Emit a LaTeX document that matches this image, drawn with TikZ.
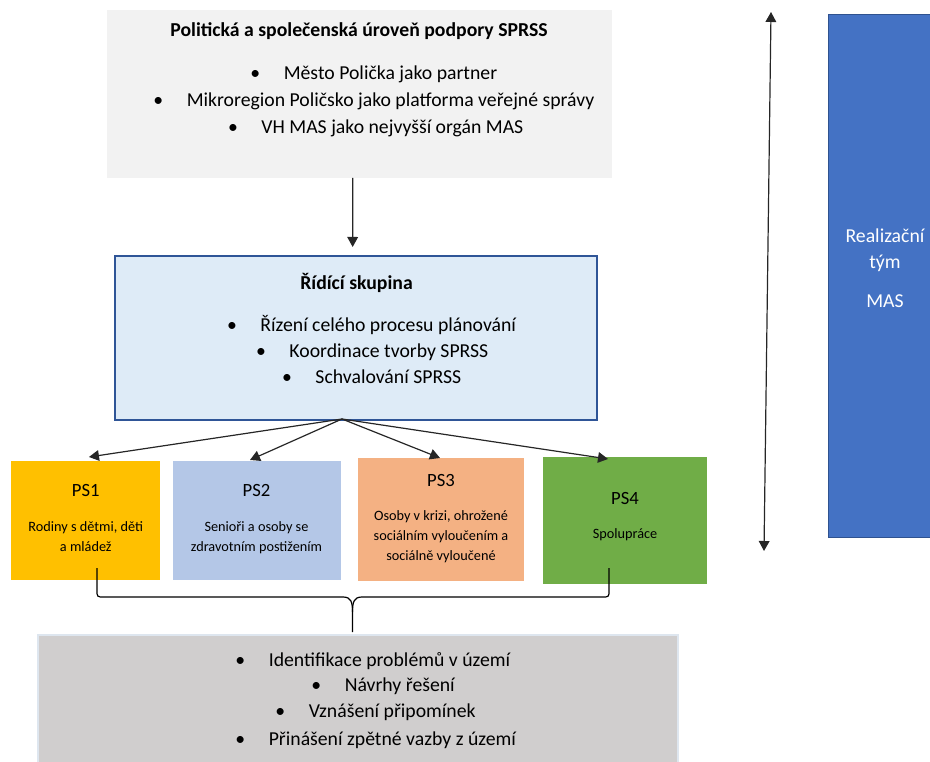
\documentclass[tikz,border=0pt]{standalone}
\usepackage{fontspec}
\setmainfont{Carlito}
\usetikzlibrary{arrows.meta,arrows}
\usetikzlibrary{calc}
\usepackage{xcolor}

\definecolor{polgray}{HTML}{F2F2F2}
\definecolor{ridfill}{HTML}{DEEBF7}
\definecolor{ridedge}{HTML}{2F5597}
\definecolor{psyellow}{HTML}{FFC000}
\definecolor{psblue}{HTML}{B4C7E7}
\definecolor{psorange}{HTML}{F4B183}
\definecolor{psgreen}{HTML}{70AD47}
\definecolor{botgray}{HTML}{D0CECE}
\definecolor{botedge}{HTML}{DEE6EF}
\definecolor{masblue}{HTML}{4472C4}
\definecolor{masedge}{HTML}{2F528F}

\newcommand{\itm}[1]{\makebox[0pt][c]{\textbullet}\hspace{21.4pt}#1}

\begin{document}
\begin{tikzpicture}[x=0.75pt,y=-0.75pt]
    \tikzset{line/.style={draw=black!85,line width=0.9pt}}
    \tikzset{arrow/.style={line,-{Triangle[length=7.5pt,width=8pt]}}}
    \tikzset{box/.style={inner sep=0pt,outer sep=0pt}}
    \tikzset{txt/.style={inner sep=0pt,anchor=base,font=\fontsize{14.8}{17}\selectfont}}
    \tikzset{itm/.style={txt,anchor=base west}}
    \tikzset{pstitle/.style={txt,font=\fontsize{14}{16}\selectfont}}
    \tikzset{psdesc/.style={txt,font=\fontsize{10.7}{12}\selectfont}}
    \tikzset{mastxt/.style={txt,text=white}}

    \useasboundingbox (0,0) rectangle (930,762);

    % boxes
    \node[box,fill=polgray,minimum width=378.75pt,minimum height=126pt] (pol) at (359.5,94) {};
    \node[box,fill=ridfill,draw=ridedge,line width=1.5pt,minimum width=361.5pt,minimum height=123pt] (rid) at (356,338) {};
    \node[box,fill=psyellow,minimum width=111.75pt,minimum height=89.25pt] (ps1) at (85.5,520.5) {};
    \node[box,fill=psblue,minimum width=126pt,minimum height=89.25pt] (ps2) at (256.5,520.5) {};
    \node[box,fill=psorange,minimum width=125pt,minimum height=92.25pt] (ps3) at (441,519.5) {};
    \node[box,fill=psgreen,minimum width=123pt,minimum height=95pt] (ps4) at (625,520.3) {};
    \node[box,fill=botgray,draw=botedge,line width=1.5pt,minimum width=480pt,minimum height=100pt] (bot) at (358,702) {};
    \node[box,fill=masblue,draw=masedge,line width=0.75pt,minimum width=84pt,minimum height=391.5pt] (mas) at (884,276) {};

    % top level
    \node[txt] (poltitle) at (359,37) {\textbf{Politická a společenská úroveň podpory SPRSS}};
    \node[itm] (pol1) at (255,79.5) {\itm{Město Polička jako partner}};
    \node[itm] (pol2) at (158,106.5) {\itm{Mikroregion Poličsko jako platforma veřejné správy}};
    \node[itm] (pol3) at (232.7,133.5) {\itm{VH MAS jako nejvyšší orgán MAS}};

    % steering group
    \node[txt] (ridtitle) at (356.5,290) {\textbf{Řídící skupina}};
    \node[itm] (rid1) at (231.7,331.5) {\itm{Řízení celého procesu plánování}};
    \node[itm] (rid2) at (260.7,357.5) {\itm{Koordinace tvorby SPRSS}};
    \node[itm] (rid3) at (286.7,383.5) {\itm{Schvalování SPRSS}};

    % working groups
    \node[pstitle] (ps1t) at (85.8,496) {PS1};
    \node[psdesc] (ps1a) at (85.8,531) {Rodiny s dětmi, děti};
    \node[psdesc] (ps1b) at (85.8,551) {a mládež};
    \node[pstitle] (ps2t) at (256.5,496) {PS2};
    \node[psdesc] (ps2a) at (256.5,531) {Senioři a osoby se};
    \node[psdesc] (ps2b) at (256.5,551) {zdravotním postižením};
    \node[pstitle] (ps3t) at (441,486) {PS3};
    \node[psdesc] (ps3a) at (441,520.5) {Osoby v krizi, ohrožené};
    \node[psdesc] (ps3b) at (441,540.5) {sociálním vyloučením a};
    \node[psdesc] (ps3c) at (441,560.5) {sociálně vyloučené};
    \node[pstitle] (ps4t) at (625,504) {PS4};
    \node[psdesc] (ps4a) at (625,538.5) {Spolupráce};

    % bottom list
    \node[itm] (bot1) at (240,666.5) {\itm{Identifikace problémů v území}};
    \node[itm] (bot2) at (316,691.5) {\itm{Návrhy řešení}};
    \node[itm] (bot3) at (280,717.5) {\itm{Vznášení připomínek}};
    \node[itm] (bot4) at (240,745.5) {\itm{Přinášení zpětné vazby z území}};

    % team
    \node[mastxt] (mas1) at (885,243) {Realizační};
    \node[mastxt] (mas2) at (885,269) {tým};
    \node[mastxt] (mas3) at (885,308) {MAS};

    % arrows
    \draw[arrow] ([xshift=-5.1pt]pol.south) -- ([xshift=-2.5pt,yshift=6.75pt]rid.north);
    \coordinate (fan) at (342,419);
    \draw[arrow] (fan) -- ([xshift=2.6pt,yshift=3pt]ps1.north);
    \draw[arrow] (fan) -- ([xshift=-4.9pt,yshift=0.75pt]ps2.north);
    \draw[arrow] (fan) -- ([xshift=-0.75pt]ps3.north);
    \draw[arrow] (fan) -- ([xshift=-12.75pt,yshift=-1.5pt]ps4.north);

    \coordinate (rtop) at (771,12);
    \coordinate (rbot) at (764,551);
    \draw[line,{Triangle[length=7.5pt,width=8pt]}-{Triangle[length=7.5pt,width=8pt]}] (rtop) -- (rbot);

    % brace
    \coordinate (brL) at (97,568);
    \coordinate (brR) at (609,568);
    \coordinate (brM) at (352.5,632);
    \draw[line,draw=black] (brL) -- (97,590) .. controls (97,597) .. (104,597) -- (343,597)
        .. controls (351,597) and (352.5,602) .. (352.5,612) -- (brM);
    \draw[line,draw=black] (brR) -- (609,590) .. controls (609,597) .. (602,597) -- (362,597)
        .. controls (354,597) and (352.5,602) .. (352.5,612);
\end{tikzpicture}
\end{document}
